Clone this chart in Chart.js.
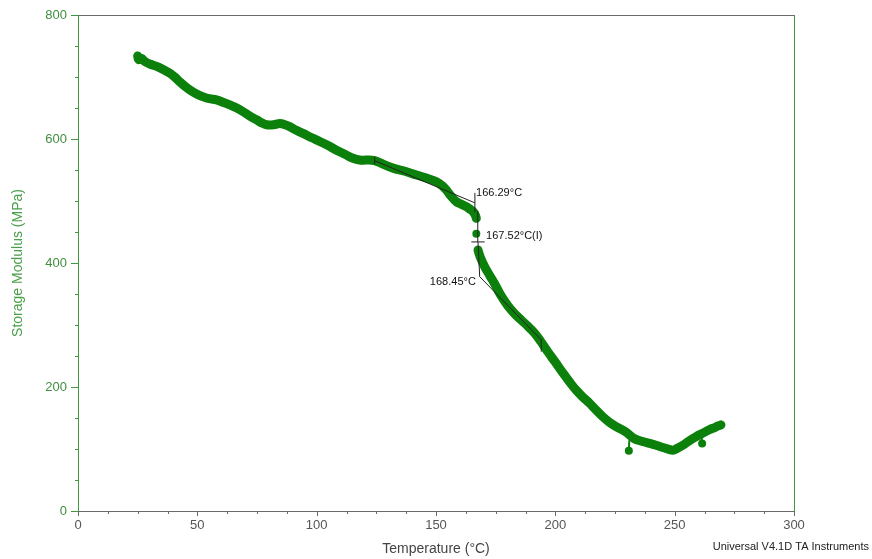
<!DOCTYPE html>
<html>
<head>
<meta charset="utf-8">
<script src="https://cdn.jsdelivr.net/npm/chart.js@4.4.1/dist/chart.umd.min.js"></script>
<style>
html,body{margin:0;padding:0;background:#fff;}
#c{display:block;}
</style>
</head>
<body>
<canvas id="c" width="872" height="559"></canvas>
<script>
// ---- data (Temperature °C, Storage Modulus MPa) ----
const curveBefore = [
  [25.0,734],[25.4,728],[26.5,730],[28,725],[30.1,721],[33,717],[35.7,712],[38.5,706],[40.5,700],[42.7,692],
  [44.8,685],[46.9,679],[49.5,673],[52.5,668],[55,665],[58,663],[61,659],[63.6,655],[66.5,650],[69.2,644],
  [72,637],[74.8,631],[77,626],[79,623],[82,623],[84.6,625],[86.7,623],[88.7,620],[91.5,614],[94.3,609],
  [98,602],[101.3,596],[105,589],[108.3,582],[112,575],[115.2,569],[118,566],[120.8,566],[124.3,565],[128,559],
  [132,553],[137,548],[141.8,542],[146,537],[150.2,531],[152.5,525],[154.3,518],[156.5,507],[158.5,499],[160.5,495],
  [162.7,491],[164.5,486],[165.5,483],[166.5,477],[166.9,472]
];
const isolatedPoint = [[166.9,447]];
const curveAfter = [
  [167.6,421],[168.5,410],[170.4,394],[172.5,380],[174.5,367],[177,349],[180.1,331],[183,318],[185.7,308],[188.5,298],
  [191.3,287],[194,273],[197,256],[200,240],[203.1,223],[206,208],[208.7,195],[211.5,184],[214.3,174],[217,163],
  [219.9,152],[222.7,143],[225.5,136],[229.7,127],[233,117],[236.6,112],[239.5,109],[242.2,106],[245.5,102],[249.2,98],
  [251,101],[253.4,106],[256,113],[259,120],[261.5,125],[264.5,131],[267,135],[269.4,139]
];
const outlierStems = [
  [[231,114],[230.8,97]],
  [[261.2,123],[261.5,109]]
];
const outlierPoints = [[230.8,97],[261.5,109]];

// analysis annotations (data units)
const annotationLines = [
  [[124.3,571],[124.3,559]],
  [[124.3,565],[166.3,497]],
  [[166.3,513],[166.3,482]],
  [[167.5,484],[167.5,434]],
  [[164.8,434],[170.4,434]],
  [[167.6,434],[168.3,378]],
  [[168.3,378],[194.1,276]],
  [[194.1,277],[194.1,257]]
];
const annotationLabels = [
  {text:'166.29°C', x:166.8, y:513, align:'left'},
  {text:'167.52°C(I)', x:171.0, y:443, align:'left'},
  {text:'168.45°C', x:166.7, y:369, align:'right'}
];

const xTicks = {min:0, max:300, major:50, minor:12.5};
const yTicks = {min:0, max:800, major:200, minor:50};

const toPts = a => a.map(p => ({x:p[0], y:p[1]}));
const GREEN = '#0b800b';
const AXIS_GREEN = '#3f9a3f';
const GRAY = '#6a6a6a';

const framePlugin = {
  id:'frame',
  afterDraw(chart){
    const ctx = chart.ctx, xs = chart.scales.x, ys = chart.scales.y, a = chart.chartArea;
    ctx.save();
    ctx.lineWidth = 1;
    ctx.strokeStyle = GRAY;
    ctx.beginPath(); ctx.moveTo(a.left, a.top+0.5); ctx.lineTo(a.right, a.top+0.5); ctx.stroke();
    ctx.strokeStyle = AXIS_GREEN;
    ctx.beginPath(); ctx.moveTo(a.right+0.5, a.top); ctx.lineTo(a.right+0.5, a.bottom); ctx.stroke();
    ctx.strokeStyle = GRAY;
    for (let v = xTicks.min; v <= xTicks.max + 1e-6; v += xTicks.minor) {
      const px = Math.round(xs.getPixelForValue(v)) + 0.5;
      const major = Math.abs(v / xTicks.major - Math.round(v / xTicks.major)) < 1e-6;
      ctx.beginPath(); ctx.moveTo(px, a.bottom); ctx.lineTo(px, a.bottom + (major ? 5 : 3)); ctx.stroke();
    }
    ctx.strokeStyle = AXIS_GREEN;
    for (let v = yTicks.min; v <= yTicks.max + 1e-6; v += yTicks.minor) {
      const py = Math.round(ys.getPixelForValue(v)) + 0.5;
      const major = Math.abs(v / yTicks.major - Math.round(v / yTicks.major)) < 1e-6;
      ctx.beginPath(); ctx.moveTo(a.left - (major ? 7 : 3), py); ctx.lineTo(a.left, py); ctx.stroke();
    }
    ctx.strokeStyle = '#222';
    ctx.lineWidth = 1;
    annotationLines.forEach(l => {
      ctx.beginPath();
      ctx.moveTo(xs.getPixelForValue(l[0][0]), ys.getPixelForValue(l[0][1]));
      ctx.lineTo(xs.getPixelForValue(l[1][0]), ys.getPixelForValue(l[1][1]));
      ctx.stroke();
    });
    ctx.fillStyle = '#111';
    ctx.font = '11px "Liberation Sans", Arial, sans-serif';
    ctx.textBaseline = 'middle';
    annotationLabels.forEach(t => {
      ctx.textAlign = t.align;
      ctx.fillText(t.text, xs.getPixelForValue(t.x), ys.getPixelForValue(t.y));
    });
    ctx.fillStyle = '#222';
    ctx.font = '11px "Liberation Sans", Arial, sans-serif';
    ctx.textAlign = 'right';
    ctx.fillText('Universal V4.1D TA Instruments', 869, 547);
    ctx.restore();
  }
};

new Chart(document.getElementById('c'), {
  type:'line',
  data:{
    datasets:[
      {data:toPts(curveBefore), borderColor:GREEN, borderWidth:9, pointRadius:0, tension:0.4, borderCapStyle:'round', borderJoinStyle:'round'},
      {data:toPts(curveAfter), borderColor:GREEN, borderWidth:9, pointRadius:0, tension:0.4, borderCapStyle:'round', borderJoinStyle:'round'},
      {data:toPts(isolatedPoint), showLine:false, pointRadius:4, pointBackgroundColor:GREEN, pointBorderColor:GREEN, pointBorderWidth:0},
      {data:toPts(outlierPoints), showLine:false, pointRadius:4, pointBackgroundColor:GREEN, pointBorderColor:GREEN, pointBorderWidth:0},
      ...outlierStems.map(s => ({data:toPts(s), borderColor:GREEN, borderWidth:2, pointRadius:0}))
    ]
  },
  options:{
    responsive:false,
    animation:false,
    events:[],
    layout:{padding:{top:15, right:78, left:0, bottom:0}},
    plugins:{legend:{display:false}, tooltip:{enabled:false}},
    scales:{
      x:{
        type:'linear', min:xTicks.min, max:xTicks.max,
        afterFit(s){ s.height = 48; s.paddingLeft = 0; s.paddingRight = 0; },
        grid:{display:true, drawOnChartArea:false, drawTicks:false},
        border:{display:true, color:GRAY, width:1},
        ticks:{stepSize:xTicks.major, padding:7, color:'#555', font:{family:'"Liberation Sans", Arial, sans-serif', size:13}},
        title:{display:true, text:'Temperature (°C)', color:'#444', font:{family:'"Liberation Sans", Arial, sans-serif', size:14}, padding:{top:0, bottom:1}}
      },
      y:{
        type:'linear', min:yTicks.min, max:yTicks.max,
        afterFit(s){ s.width = 78; s.paddingTop = 0; s.paddingBottom = 0; },
        grid:{display:true, drawOnChartArea:false, drawTicks:false},
        border:{display:true, color:AXIS_GREEN, width:1},
        ticks:{stepSize:yTicks.major, padding:11, color:'#3f8f3f', font:{family:'"Liberation Sans", Arial, sans-serif', size:13}},
        title:{display:true, text:'Storage Modulus (MPa)', color:'#4a9f4a', font:{family:'"Liberation Sans", Arial, sans-serif', size:14}, padding:{top:10, bottom:0}}
      }
    }
  },
  plugins:[framePlugin]
});
</script>
</body>
</html>
